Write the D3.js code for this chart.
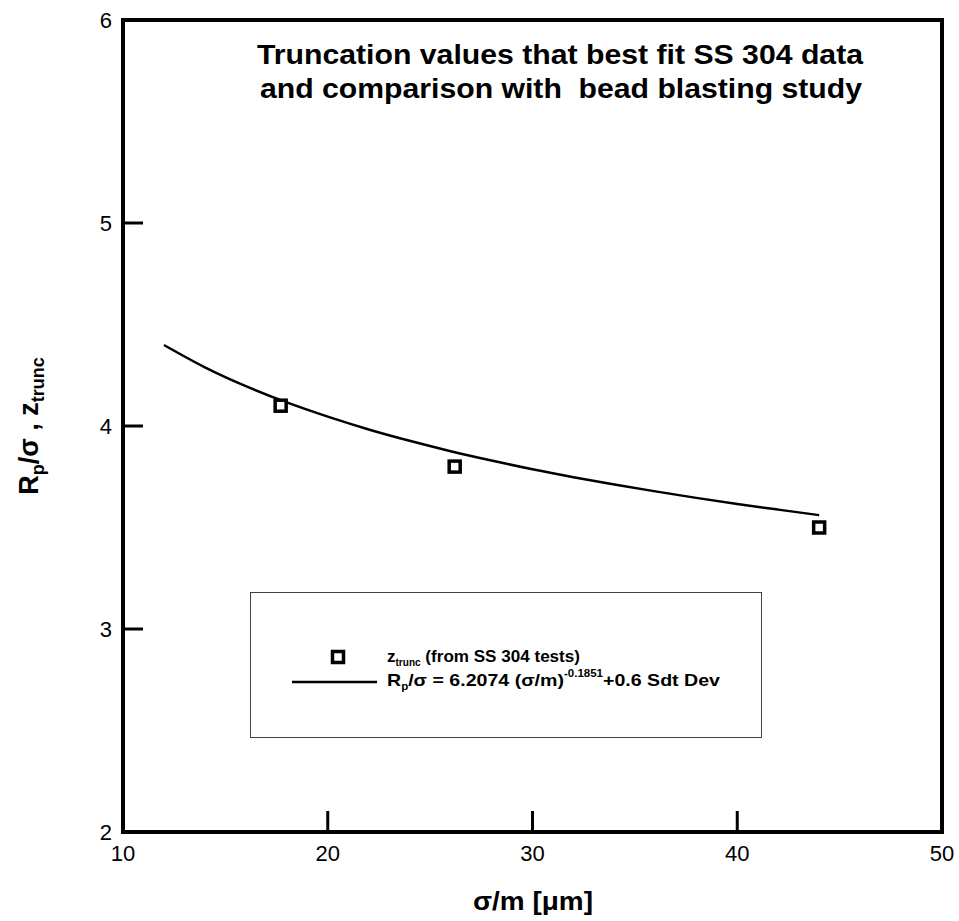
<!DOCTYPE html>
<html>
<head>
<meta charset="utf-8">
<script src="https://cdn.jsdelivr.net/npm/d3@7"></script>
<style>
  html, body { margin: 0; padding: 0; background: #fff; }
  svg { display: block; }
  text { font-family: "Liberation Sans", Arial, Helvetica, sans-serif; fill: #000; white-space: pre; }
  .narrow { font-family: "Liberation Sans Narrow", "Liberation Sans", Arial, sans-serif; }
</style>
</head>
<body>
<svg id="chart" width="959" height="921"></svg>
<script>
// Measured truncation values (SS 304 tests)
const testX = [17.7, 26.2, 44.0];
const testZ = [4.10, 3.80, 3.50];

// Fit curve R_p/σ = 6.2074 (σ/m)^-0.1851 + 0.6 Sdt Dev
const fitX = [12, 14, 16, 18, 20, 22, 24, 26, 28, 30, 32, 34, 36, 38, 40, 42, 44];
const fitY = [4.399, 4.289, 4.196, 4.116, 4.046, 3.983, 3.927, 3.876, 3.830, 3.787,
              3.748, 3.712, 3.678, 3.646, 3.616, 3.588, 3.561];

const xTicks = [10, 20, 30, 40, 50];
const yTicks = [2, 3, 4, 5, 6];

const svg = d3.select("#chart");
const plotL = 123, plotR = 942, plotT = 20, plotB = 832;

const x = d3.scaleLinear().domain([10, 50]).range([plotL, plotR]);
const y = d3.scaleLinear().domain([2, 6]).range([plotB, plotT]);

// Inward ticks
svg.append("g")
  .selectAll("line")
  .data(xTicks.slice(1, -1))
  .join("line")
  .attr("x1", d => x(d)).attr("x2", d => x(d))
  .attr("y1", plotB).attr("y2", plotB - 21)
  .attr("stroke", "#000").attr("stroke-width", 3);

svg.append("g")
  .selectAll("line")
  .data(yTicks.slice(1, -1))
  .join("line")
  .attr("x1", plotL).attr("x2", plotL + 20)
  .attr("y1", d => y(d)).attr("y2", d => y(d))
  .attr("stroke", "#000").attr("stroke-width", 3);

// Frame
svg.append("rect")
  .attr("x", plotL).attr("y", plotT)
  .attr("width", plotR - plotL).attr("height", plotB - plotT)
  .attr("fill", "none").attr("stroke", "#000").attr("stroke-width", 4);

// Tick labels
svg.append("g")
  .selectAll("text")
  .data(xTicks)
  .join("text")
  .attr("x", d => x(d)).attr("y", 861)
  .attr("text-anchor", "middle")
  .attr("font-size", 22)
  .text(d => d);

svg.append("g")
  .selectAll("text")
  .data(yTicks)
  .join("text")
  .attr("x", 112).attr("y", d => y(d) + 8)
  .attr("text-anchor", "end")
  .attr("font-size", 22)
  .text(d => d);

// Fit curve
const line = d3.line().x(d => x(d[0])).y(d => y(d[1])).curve(d3.curveMonotoneX);
svg.append("path")
  .datum(fitX.map((v, i) => [v, fitY[i]]))
  .attr("d", line)
  .attr("fill", "none").attr("stroke", "#000").attr("stroke-width", 2.5);

// Test markers
const sq = 11;
svg.append("g")
  .selectAll("rect")
  .data(testX.map((v, i) => [v, testZ[i]]))
  .join("rect")
  .attr("x", d => x(d[0]) - sq / 2).attr("y", d => y(d[1]) - sq / 2)
  .attr("width", sq).attr("height", sq)
  .attr("fill", "#fff").attr("stroke", "#000").attr("stroke-width", 3.5);

// Title
const title = svg.append("g").attr("font-weight", "bold").attr("font-size", 28);
title.append("text").attr("class", "narrow").attr("x", 560).attr("y", 64)
  .attr("text-anchor", "middle").attr("textLength", 606).attr("lengthAdjust", "spacingAndGlyphs")
  .text("Truncation values that best fit SS 304 data");
title.append("text").attr("class", "narrow").attr("x", 561).attr("y", 98)
  .attr("text-anchor", "middle").attr("textLength", 602).attr("lengthAdjust", "spacingAndGlyphs")
  .text("and comparison with  bead blasting study");

// Legend
const lg = svg.append("g");
lg.append("rect")
  .attr("x", 250.5).attr("y", 592.5).attr("width", 511).attr("height", 145)
  .attr("fill", "#fff").attr("stroke", "#444").attr("stroke-width", 1);
lg.append("rect")
  .attr("x", 338 - sq / 2).attr("y", 657 - sq / 2).attr("width", sq).attr("height", sq)
  .attr("fill", "#fff").attr("stroke", "#000").attr("stroke-width", 3.5);
lg.append("line")
  .attr("x1", 292).attr("x2", 377).attr("y1", 682).attr("y2", 682)
  .attr("stroke", "#000").attr("stroke-width", 2.5);

const t1 = lg.append("text").attr("class", "narrow").attr("x", 387).attr("y", 662)
  .attr("font-weight", "bold").attr("font-size", 17)
  .attr("textLength", 193).attr("lengthAdjust", "spacingAndGlyphs");
t1.append("tspan").text("z");
t1.append("tspan").attr("font-size", 10).attr("dy", 4).text("trunc");
t1.append("tspan").attr("dy", -4).text(" (from SS 304 tests)");

const t2 = lg.append("text").attr("class", "narrow").attr("x", 387).attr("y", 686)
  .attr("font-weight", "bold").attr("font-size", 17)
  .attr("textLength", 333).attr("lengthAdjust", "spacingAndGlyphs");
t2.append("tspan").text("R");
t2.append("tspan").attr("font-size", 10).attr("dy", 4).text("p");
t2.append("tspan").attr("dy", -4).text("/σ = 6.2074 (σ/m)");
t2.append("tspan").attr("font-size", 10).attr("dy", -9).text("-0.1851");
t2.append("tspan").attr("dy", 9).text("+0.6 Sdt Dev");

// Axis titles
svg.append("text")
  .attr("x", 533).attr("y", 910)
  .attr("text-anchor", "middle")
  .attr("font-weight", "bold").attr("font-size", 25)
  .attr("textLength", 120).attr("lengthAdjust", "spacingAndGlyphs")
  .text("σ/m [μm]");

const yt = svg.append("text")
  .attr("transform", "translate(38,426) rotate(-90)")
  .attr("text-anchor", "middle")
  .attr("font-weight", "bold").attr("font-size", 27);
yt.append("tspan").text("R");
yt.append("tspan").attr("font-size", 18).attr("dy", 6).text("p");
yt.append("tspan").attr("dy", -6).text("/σ , z");
yt.append("tspan").attr("font-size", 18).attr("dy", 6).text("trunc");
</script>
</body>
</html>
